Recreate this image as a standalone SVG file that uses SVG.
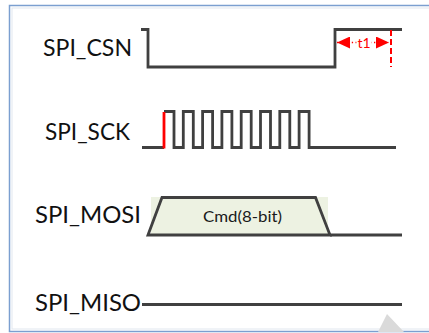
<svg xmlns="http://www.w3.org/2000/svg" width="429" height="333" viewBox="0 0 429 333">
  <style>
    .label { font-family: Lato, "Liberation Sans", sans-serif; font-size: 24px; fill: #111111; }
    .wave { fill: none; stroke: #404040; stroke-width: 2.8; stroke-linejoin: miter; stroke-linecap: butt; }
    .hilite { fill: none; stroke: #ff0000; stroke-width: 2.8; }
    .dim { fill: none; stroke: #ff0000; stroke-width: 1.3; stroke-dasharray: 1.3 2.4; }
    .guide { fill: none; stroke: #ff0000; stroke-width: 2; stroke-dasharray: 6 3; }
    .note { font-family: Lato, "Liberation Sans", sans-serif; font-size: 14px; fill: #ff0000; text-anchor: middle; }
    .cmd { font-family: Lato, "Liberation Sans", sans-serif; font-size: 16px; fill: #1a1a1a; }
  </style>
  <defs>
    <marker id="arrow" viewBox="0 0 13 12" refX="13" refY="6" markerWidth="13" markerHeight="12" markerUnits="userSpaceOnUse" orient="auto-start-reverse">
      <path d="M0,0 L13,6 L0,12 Z" fill="#ff0000"/>
    </marker>
  </defs>

  <!-- page background and frame -->
  <rect x="0" y="0" width="429" height="333" fill="#ffffff"/>
  <rect x="9.5" y="5.5" width="440" height="326" fill="#ffffff" stroke="#7b9fd0" stroke-width="1.5"/>
  <rect x="12" y="8" width="440" height="321" fill="none" stroke="#e1e7ef" stroke-width="1"/>
  <polygon points="378,332 387,314 404,332" fill="#dadada"/>

  <!-- chip select -->
  <g id="spi-csn">
    <text class="label" x="43" y="55.5" textLength="89" lengthAdjust="spacingAndGlyphs">SPI_CSN</text>
    <path class="wave" d="M141,29.5 H148 V67 H335 V29.5 H402"/>
  </g>

  <!-- clock -->
  <g id="spi-sck">
    <text class="label" x="45" y="140" textLength="85" lengthAdjust="spacingAndGlyphs">SPI_SCK</text>
    <path class="wave" d="M142,147.5 H164 M164,111.5 H174 V147.5 H183.3 V111.5 H193.3 V147.5 H202.6 V111.5 H212.6 V147.5 H221.9 V111.5 H231.9 V147.5 H241.2 V111.5 H251.2 V147.5 H260.5 V111.5 H270.5 V147.5 H279.8 V111.5 H289.8 V147.5 H299.1 V111.5 H309.1 V147.5 H396"/>
    <path class="hilite" d="M164,148.5 V112"/>
  </g>

  <!-- master out -->
  <g id="spi-mosi">
    <text class="label" x="35" y="223" textLength="106" lengthAdjust="spacingAndGlyphs">SPI_MOSI</text>
    <rect x="151" y="197" width="177" height="38" fill="#edf2e2"/>
    <polygon class="wave" points="148,235 162,197.5 315.5,197.5 330,235" fill="#dbe5c3"/>
    <path class="wave" d="M330,235 H402"/>
    <text class="cmd" x="203" y="222" textLength="79" lengthAdjust="spacingAndGlyphs">Cmd(8-bit)</text>
  </g>

  <!-- master in -->
  <g id="spi-miso">
    <text class="label" x="35" y="310.5" textLength="106" lengthAdjust="spacingAndGlyphs">SPI_MISO</text>
    <path class="wave" d="M142,304.5 H402"/>
  </g>

  <!-- t1 hold time after chip select release -->
  <g id="connectors">
    <path class="guide" d="M391,30 V67"/>
    <path class="dim" d="M337,42.5 H389" marker-start="url(#arrow)" marker-end="url(#arrow)"/>
    <rect x="356.5" y="34" width="15" height="15" fill="#ffffff"/>
    <text class="note" x="364" y="47.5">t1</text>
  </g>
</svg>
